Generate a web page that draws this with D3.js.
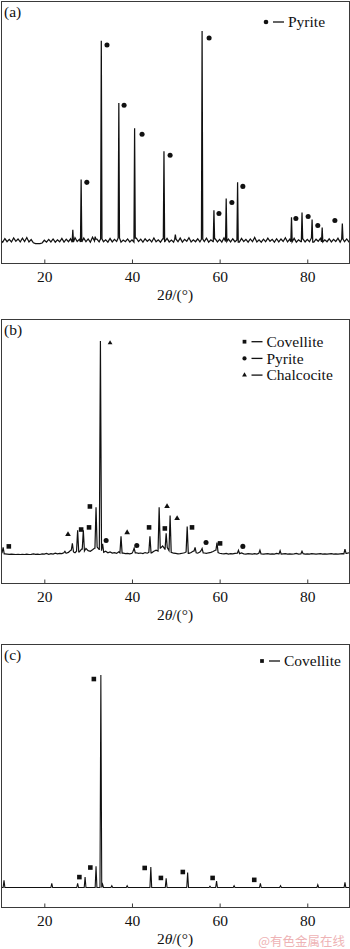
<!DOCTYPE html>
<html>
<head>
<meta charset="utf-8">
<script src="https://cdn.jsdelivr.net/npm/d3@7"></script>
<style>
  html, body { margin: 0; padding: 0; background: #fff; }
  svg { display: block; }
  text { font-family: "Liberation Serif", "Times New Roman", serif; fill: #111; }
</style>
</head>
<body>
<div id="chart"></div>
<script>
// ---- Data: XRD patterns, 2θ in degrees, intensity in relative units (strongest peak = 100) ----
const tickValues = [20, 40, 60, 80];

// (a) raw sample: pyrite peaks
const peaksA = [
  [26.5, 6.2], [28.4, 30.0], [31.6, 3.0], [33.0, 95.4], [37.0, 66.0], [40.6, 54.1],
  [47.3, 43.3], [49.9, 4.0], [56.0, 100], [58.7, 15.4], [61.5, 21.0], [64.1, 28.7],
  [76.4, 12.1], [78.8, 14.4], [81.1, 11.1], [83.4, 7.3], [88.0, 9.2]
];
// background noise of (a), sampled every 0.5° from 10°
const noiseA = [
  1.4, 0.4, 2.1, 0.6, 1.7, 0.5, 2.4, 0.8, 1.9, 0.5,
  2.3, 0.7, 2.6, 0.5, 1.6, 0.1, -0.3, -0.3, -0.3, 0.0,
  1.3, 0.4, 1.7, 0.5, 1.9, 0.4, 1.5, 0.6, 2.2, 0.4,
  1.8, 0.6, 2.0, 0.4, 2.5, 0.7, 1.7, 0.5, 2.3, 0.6,
  1.9, 0.4, 2.7, 0.9, 1.8, 0.5, 2.0, 0.6, 1.5, 0.4,
  2.1, 0.5, 1.7, 0.7, 2.4, 0.4, 1.4, 0.6, 1.9, 0.5,
  1.5, 0.4, 2.3, 0.7, 1.8, 0.4, 2.0, 0.8, 1.7, 0.5,
  2.4, 0.6, 1.5, 0.4, 1.9, 0.7, 2.2, 0.5, 1.4, 0.4,
  1.8, 0.6, 2.3, 0.4, 1.7, 0.8, 2.5, 0.5, 1.5, 0.6,
  2.0, 0.5, 1.8, 0.7, 2.3, 0.4, 1.5, 0.6, 1.9, 0.5,
  1.7, 0.4, 2.4, 0.7, 1.8, 0.5, 2.0, 0.6, 1.4, 0.4,
  2.2, 0.7, 1.7, 0.4, 1.9, 0.6, 2.6, 0.5, 1.5, 0.4,
  1.8, 0.6, 2.3, 0.8, 1.7, 0.4, 2.0, 0.5, 1.9, 0.7,
  2.5, 0.5, 1.8, 0.6, 2.2, 0.4, 1.5, 0.7, 1.9, 0.5,
  1.7, 0.6, 2.4, 0.4, 1.8, 0.8, 2.2, 0.5, 1.5, 0.6,
  2.0, 0.5, 1.7, 0.7, 2.3, 0.4, 1.8, 0.6, 1.9, 0.5,
  1.4
];
const pyriteA = [
  [34.3, 93.4], [38.2, 65.0], [42.3, 51.3], [48.7, 41.4], [57.6, 96.7], [29.7, 28.6],
  [59.85, 13.9], [62.8, 19.1], [65.3, 26.7], [77.4, 11.6], [80.2, 12.5], [82.4, 8.3], [86.3, 10.6]
];

// (b) intermediate product
const peaksB = [
  [10.6, 3.3], [24.7, 1.5], [26.4, 5.2], [27.6, 11.3], [28.9, 11.3], [31.8, 22.1],
  [32.8, 100], [33.3, 5.0], [37.5, 8.5], [40.5, 3.0], [44.1, 8.5], [46.2, 22.1],
  [47.8, 9.9], [48.7, 18.3], [52.6, 13.1], [54.4, 3.3], [56.0, 2.8], [59.4, 5.6],
  [64.3, 2.0], [69.2, 2.0], [73.8, 1.8], [78.8, 1.5], [88.6, 2.5]
];
const noiseB = [
  0.5, 0.8, 0.3, 0.2, 0.1, 0.2, 0.1, 0.0, 0.1, 0.0,
  0.1, 0.0, 0.2, 0.0, 0.1, 0.3, 0.1, 0.2, 0.0, 0.3,
  0.2, 0.5, 0.1, 0.4, 0.2, 0.6, 0.3, 0.5, 0.4, 0.8,
  0.6, 1.0, 2.0, 1.2, 0.8, 1.5, 1.2, 2.5, 1.6, 2.8,
  1.8, 1.5, 2.2, 3.0, 3.5, 2.4, 1.8, 1.0, 1.5, 0.8,
  1.2, 0.7, 0.9, 0.5, 1.3, 0.8, 0.6, 0.4, 0.5, 0.3,
  0.6, 1.5, 0.8, 0.5, 0.7, 0.4, 0.9, 0.6, 1.0, 0.8,
  1.5, 2.0, 1.6, 3.0, 4.0, 2.5, 3.2, 1.8, 1.0, 0.6,
  0.5, 0.3, 0.4, 0.6, 0.8, 1.2, 0.5, 0.9, 1.6, 0.8,
  0.6, 1.2, 1.8, 0.7, 0.5, 0.8, 1.0, 1.4, 2.0, 0.9,
  0.6, 0.4, 0.3, 0.5, 0.2, 0.4, 0.3, 0.5, 0.6, 0.4,
  0.7, 0.3, 0.2, 0.4, 0.3, 0.2, 0.4, 0.2, 0.6, 0.3,
  0.2, 0.3, 0.4, 0.2, 0.3, 0.2, 0.5, 0.3, 0.2, 0.3,
  0.4, 0.2, 0.3, 0.2, 0.3, 0.5, 0.2, 0.3, 0.4, 0.2,
  0.3, 0.2, 0.4, 0.3, 0.2, 0.3, 0.4, 0.2, 0.3, 0.2,
  0.3, 0.4, 0.2, 0.3, 0.2, 0.3, 0.4, 0.3, 0.5, 0.8,
  0.3
];
const covelliteB = [[11.9, 3.8], [28.4, 11.7], [30.2, 12.7], [30.4, 22.5], [43.9, 12.7], [47.5, 12.2], [53.7, 12.7], [60.1, 5.2]];
const pyriteB = [[34.1, 6.6], [41.1, 4.2], [56.9, 5.6], [65.3, 3.8]];
const chalcociteB = [[25.4, 9.4], [38.9, 10.3], [48.0, 22.5], [50.3, 16.9]];
const chalcociteTopB = [[35.0, 99.1]];

// (c) final product: covellite
const peaksC = [
  [10.8, 3.4], [21.7, 2.0], [27.6, 2.0], [29.3, 4.9], [31.8, 10.0], [32.9, 100],
  [33.3, 1.5], [35.4, 0.8], [38.9, 0.8], [44.3, 9.6], [47.8, 4.3], [52.7, 7.1],
  [57.8, 0.6], [59.3, 3.0], [63.3, 0.8], [69.3, 2.0], [73.9, 0.8], [82.4, 1.3], [88.6, 2.4]
];
const noiseC = [];
const covelliteC = [[28.0, 4.9], [30.5, 9.4], [31.3, 98.1], [42.9, 9.2], [46.6, 4.5], [51.6, 7.3], [58.4, 4.5], [67.9, 3.6]];

// ---- Layout ----
const W = 350, H = 949;
const frameL = 1.5, frameR = 349.5;
const panels = [
  { id: "a", label: "(a)", top: 1.5, bottom: 263.5, zero: 243, full: 31, peaks: peaksA, noise: noiseA, hw: 0.15, lw: 1.25,
    markers: [{ data: pyriteA, type: d3.symbolCircle, size: 20 }],
    legend: [{ type: d3.symbolCircle, size: 17, text: "Pyrite" }], legendX: 266, legendY: 22 },
  { id: "b", label: "(b)", top: 319.5, bottom: 583.5, zero: 554.5, full: 341, peaks: peaksB, noise: noiseB, hw: 0.25, lw: 1.2,
    markers: [
      { data: covelliteB, type: d3.symbolSquare, size: 21 },
      { data: pyriteB, type: d3.symbolCircle, size: 20 },
      { data: chalcociteB, type: d3.symbolTriangle, size: 14 },
      { data: chalcociteTopB, type: d3.symbolTriangle, size: 10 }
    ],
    legend: [
      { type: d3.symbolSquare, size: 14, text: "Covellite" },
      { type: d3.symbolCircle, size: 14, text: "Pyrite" },
      { type: d3.symbolTriangle, size: 10, text: "Chalcocite" }
    ], legendX: 244.5, legendY: 341.7 },
  { id: "c", label: "(c)", top: 644.5, bottom: 907.5, zero: 887.5, full: 675, peaks: peaksC, noise: noiseC, hw: 0.2, lw: 1.1,
    markers: [{ data: covelliteC, type: d3.symbolSquare, size: 21 }],
    legend: [{ type: d3.symbolSquare, size: 14, text: "Covellite" }], legendX: 262, legendY: 661 }
];

const svg = d3.select("#chart").append("svg").attr("width", W).attr("height", H);
const x = d3.scaleLinear().domain([10, 90]).range([0.5, 351.1]);

// Build a profile: background samples with each peak inserted as a narrow spike
function profile(noise, peaks, hw) {
  const bg = noise.length
    ? noise.map((v, i) => [10 + i * 0.5, v])
    : [[10, 0], [90, 0]];
  const level = t => {
    if (!noise.length) return 0;
    const i = Math.max(0, Math.min(noise.length - 1, Math.round((t - 10) / 0.5)));
    return noise[i];
  };
  let pts = bg.filter(([t]) => !peaks.some(([p]) => Math.abs(t - p) <= hw));
  peaks.forEach(([p, h]) => {
    pts.push([p - hw, level(p - hw)], [p, h], [p + hw, level(p + hw)]);
  });
  return pts.sort((a, b) => a[0] - b[0]);
}

panels.forEach(P => {
  const g = svg.append("g");
  const y = d3.scaleLinear().domain([0, 100]).range([P.zero, P.full]);

  const clipId = "clip-" + P.id;
  svg.append("clipPath").attr("id", clipId)
    .append("rect").attr("x", frameL).attr("y", P.top)
    .attr("width", frameR - frameL).attr("height", P.bottom - P.top);

  // diffraction pattern
  const line = d3.line().x(d => x(d[0])).y(d => y(d[1]));
  g.append("path")
    .datum(profile(P.noise, P.peaks, P.hw))
    .attr("d", line)
    .attr("clip-path", `url(#${clipId})`)
    .attr("fill", "none")
    .attr("stroke", "#111")
    .attr("stroke-width", P.lw)
    .attr("stroke-linejoin", "miter");

  // phase markers
  P.markers.forEach(m => {
    g.selectAll(null).data(m.data).join("path")
      .attr("transform", d => `translate(${x(d[0])},${y(d[1])})`)
      .attr("d", d3.symbol().type(m.type).size(m.size))
      .attr("fill", "#111");
  });

  // frame
  g.append("rect")
    .attr("x", frameL).attr("y", P.top)
    .attr("width", frameR - frameL).attr("height", P.bottom - P.top)
    .attr("fill", "none").attr("stroke", "#3a3a3a").attr("stroke-width", 1);

  // x axis: inward ticks on the bottom edge
  const axis = d3.axisBottom(x).tickValues(tickValues).tickSizeInner(-4).tickSizeOuter(0).tickPadding(0);
  const ax = g.append("g").attr("transform", `translate(0,${P.bottom})`).call(axis);
  ax.select(".domain").remove();
  ax.selectAll(".tick line").attr("stroke", "#3a3a3a");
  ax.selectAll(".tick text")
    .attr("y", 18.5).attr("dy", null)
    .style("font-family", '"Liberation Serif", "Times New Roman", serif')
    .style("font-size", "15.5px").attr("fill", "#111");

  // axis title 2θ/(°)
  const t = g.append("text")
    .attr("x", 175).attr("y", P.bottom + 36.5)
    .attr("text-anchor", "middle")
    .style("font-size", "15.5px");
  t.append("tspan").text("2");
  t.append("tspan").style("font-style", "italic").text("θ");
  t.append("tspan").text("/(°)");

  // panel label
  g.append("text").attr("x", 4).attr("y", P.top + 15.5)
    .style("font-size", "15.5px").text(P.label);

  // legend
  P.legend.forEach((L, i) => {
    const ly = P.legendY + i * 16.7;
    g.append("path")
      .attr("transform", `translate(${P.legendX},${ly})`)
      .attr("d", d3.symbol().type(L.type).size(L.size))
      .attr("fill", "#111");
    g.append("line")
      .attr("x1", P.legendX + 7).attr("x2", P.legendX + 18)
      .attr("y1", ly).attr("y2", ly)
      .attr("stroke", "#111").attr("stroke-width", 1.3);
    g.append("text")
      .attr("x", P.legendX + 22).attr("y", ly + 5.3)
      .style("font-size", "15.5px").text(L.text);
  });
});

// source mark
svg.append("text")
  .attr("x", 345).attr("y", 946)
  .attr("text-anchor", "end")
  .style("font-family", '"Noto Sans CJK SC", sans-serif')
  .style("font-size", "12.5px")
  .style("fill", "#eeb3b5")
  .text("@有色金属在线");
</script>
</body>
</html>
